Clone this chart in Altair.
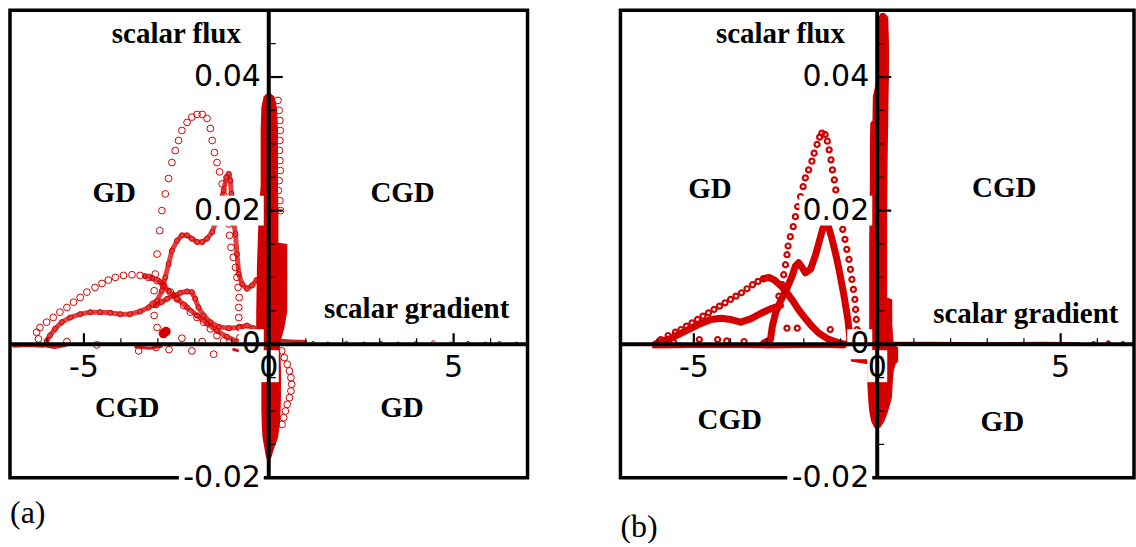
import altair as alt
import pandas as pd

RED = "#d40000"
XD = [-7, 7]
YD = [-0.02, 0.05]

# ---------------- panel (a) data ----------------
a_A_x = [-6.23,-6.28,-6.19,-6.01,-5.83,-5.65,-5.46,-5.28,-5.10,-4.92,-4.70,-4.51,-4.34,-4.15,-3.93,-3.70,-3.48,-3.25,-3.02,-2.85,-2.66,-2.48,-2.30,-2.12,-1.94,-1.76,-1.58,-1.40,-1.22]
a_A_y = [0.0008,0.0018,0.0025,0.0033,0.0040,0.0048,0.0055,0.0063,0.0070,0.0078,0.0085,0.0091,0.0096,0.0100,0.0103,0.0104,0.0103,0.0100,0.0095,0.0088,0.0078,0.0068,0.0058,0.0048,0.0040,0.0033,0.0023,0.0013,0.0005]
a_B_x = [-3.02,-3.10,-3.13,-3.10,-3.07,-3.02,-2.95,-2.89,-2.80,-2.71,-2.62,-2.53,-2.44,-2.35,-2.21,-2.08,-1.94,-1.80,-1.67,-1.58,-1.53,-1.47,-1.40,-1.33,-1.26,-1.22,-1.15,-1.08,-1.06,-1.02,-0.96,-0.90,-0.86,-0.83,-0.80,-0.81,-0.81,-0.79,-0.78]
a_B_y = [0.0025,0.0043,0.0060,0.0080,0.0105,0.0135,0.0170,0.0200,0.0225,0.0248,0.0272,0.0290,0.0305,0.0320,0.0332,0.0340,0.0344,0.0344,0.0338,0.0323,0.0305,0.0287,0.0272,0.0258,0.0240,0.0223,0.0200,0.0180,0.0163,0.0145,0.0130,0.0115,0.0100,0.0085,0.0070,0.0055,0.0040,0.0025,0.0010]
a_C_x = [-6.01,-5.92,-5.78,-5.60,-5.37,-5.10,-4.83,-4.56,-4.29,-4.02,-3.75,-3.48,-3.25,-3.02,-2.89,-2.80,-2.71,-2.62,-2.48,-2.35,-2.21,-2.08,-1.94,-1.80,-1.67,-1.53,-1.42,-1.31,-1.22,-1.15,-1.08,-1.04,-1.01,-0.98,-0.90,-0.86,-0.81,-0.72,-0.59,-0.45,-0.33]
a_C_y = [0.0005,0.0013,0.0023,0.0033,0.0040,0.0045,0.0048,0.0048,0.0047,0.0045,0.0045,0.0049,0.0055,0.0065,0.0080,0.0100,0.0120,0.0140,0.0155,0.0163,0.0163,0.0158,0.0153,0.0153,0.0158,0.0168,0.0185,0.0205,0.0230,0.0250,0.0255,0.0245,0.0225,0.0195,0.0165,0.0135,0.0105,0.0090,0.0083,0.0088,0.0096]
a_D_x = [-3.05,-2.90,-2.75,-2.57,-2.39,-2.21,-2.08,-1.99,-1.90,-1.76,-1.58,-1.35,-1.08,-0.81,-0.59,-0.41,-0.27]
a_D_y = [0.0058,0.0063,0.0068,0.0073,0.0077,0.0079,0.0078,0.0068,0.0055,0.0043,0.0033,0.0026,0.0024,0.0025,0.0028,0.0024,0.0015]
a_E_x = [-3.35,-3.15,-2.93,-2.71,-2.48,-2.21,-1.94,-1.67,-1.40,-1.13,-0.86]
a_E_y = [0.0102,0.0099,0.0093,0.0080,0.0068,0.0055,0.0043,0.0031,0.0020,0.0011,0.0004]
a_F_x = [-2.85,-2.78]
a_F_y = [0.0016,0.0019]
a_I_x = [0.25,0.28,0.30,0.31,0.30,0.29,0.30,0.31,0.28,0.26,0.30,0.32,0.35,0.42,0.50,0.56,0.60,0.62,0.60,0.56,0.50,0.45,0.40,0.36]
a_I_y = [0.0365,0.0350,0.0335,0.0320,0.0305,0.0290,0.0275,0.0260,0.0245,0.0230,0.0215,0.0200,-0.0010,-0.0020,-0.0030,-0.0040,-0.0050,-0.0060,-0.0070,-0.0080,-0.0090,-0.0100,-0.0110,-0.0120]
a_L_x = [-5.46,-4.65,-3.52,-2.35,-2.08,-1.80,-1.49,-3.05,-2.70]
a_L_y = [0.0004,-0.0001,-0.0010,0.0009,-0.0010,0.0004,-0.0015,-0.0005,-0.0008]
a_R_x = [1.2,1.6,2.1,2.57,3.04,3.5,3.98,4.45,4.92,5.39,5.86,6.24,6.7]
a_R_y = [0.0002,0.0001,0.0002,0.0001,0.0002,0.0001,0.0002,0.0003,0.0001,0.0002,0.0001,0.0002,0.0001]
a_H_seg = ["s1","s1","s1","s2","s2","s2","s3","s3","s3","s4","s4","s4","s5","s5","s5"]
a_H_x = [-6.9,-6.5,-6.1,-6.1,-5.8,-5.5,-3.6,-3.2,-2.9,-0.95,-0.6,-0.3,0.3,0.6,1.0]
a_H_y = [-0.0003,-0.0002,-0.0003,-0.0002,-0.0005,-0.0002,-0.0004,-0.0006,-0.0003,-0.0008,-0.0013,-0.0006,0.0006,0.0005,0.0004]
a_blob_y = [-0.0175,-0.0168,-0.0155,-0.014,-0.012,-0.010,-0.008,-0.006,-0.004,-0.002,0.0,0.0024,0.0049,0.008,0.0118,0.0150,0.0152,0.0198,0.0237,0.028,0.032,0.0355,0.0371,0.0376]
a_blob_xl = [-0.04,-0.08,-0.12,-0.17,-0.19,-0.2,-0.2,-0.2,-0.2,-0.2,-0.28,-0.34,-0.34,-0.33,-0.32,-0.3,-0.3,-0.27,-0.22,-0.22,-0.22,-0.2,-0.14,-0.04]
a_blob_xr = [0.02,0.08,0.15,0.25,0.3,0.32,0.33,0.33,0.33,0.32,0.3,0.42,0.5,0.5,0.5,0.5,0.26,0.26,0.25,0.25,0.25,0.22,0.15,0.04]
a_ann_text = ["scalar flux", "GD", "CGD", "scalar gradient", "CGD", "GD"]
a_ann_x = [-2.5, -4.18, 3.62, 4.0, -3.83, 3.6]
a_ann_y = [0.0465, 0.0227, 0.0227, 0.0052, -0.0095, -0.0095]

# ---------------- panel (b) data ----------------
b_P_x = [-2.68,-2.59,-2.55,-2.50,-2.46,-2.43,-2.37,-2.29,-2.23,-2.17,-2.09,-2.02,-1.96,-1.87,-1.78,-1.72,-1.64,-1.57,-1.51,-1.42,-1.36,-1.31,-1.26,-1.22,-1.17,-1.13,-1.08,-1.04,-0.99,-0.94,-0.88,-0.83,-0.77,-0.73,-0.69,-0.65,-0.61,-0.59,-0.57,-0.55,-0.54]
b_P_y = [0.0072,0.0089,0.0104,0.0119,0.0134,0.0147,0.0161,0.0176,0.0191,0.0206,0.0221,0.0236,0.0249,0.0261,0.0274,0.0286,0.0299,0.0310,0.0316,0.0314,0.0304,0.0291,0.0276,0.0261,0.0246,0.0231,0.0216,0.0201,0.0187,0.0172,0.0157,0.0142,0.0127,0.0112,0.0097,0.0082,0.0067,0.0052,0.0037,0.0022,0.0009]
b_S_x = [-5.90,-5.70,-5.50,-5.35,-5.20,-5.05,-4.90,-4.75,-4.60,-4.45,-4.30,-4.15,-4.00,-3.85,-3.70,-3.55,-3.40,-3.25,-3.10]
b_S_y = [0.0007,0.0013,0.0018,0.0022,0.0027,0.0032,0.0037,0.0042,0.0047,0.0052,0.0057,0.0062,0.0067,0.0072,0.0077,0.0083,0.0089,0.0094,0.0098]
b_Q_x = [-3.09,-2.91,-2.86,-2.77,-2.64,-2.46,-2.32,-2.23,-2.14,-2.05,-1.96,-1.82,-1.69,-1.58,-1.49,-1.42,-1.33,-1.24,-1.15,-1.06,-0.99,-0.92,-0.86,-0.80,-0.76,-0.74]
b_Q_y = [0.0002,0.0007,0.0027,0.0047,0.0064,0.0084,0.0102,0.0117,0.0122,0.0115,0.0107,0.0112,0.0132,0.0154,0.0172,0.0182,0.0176,0.0159,0.0139,0.0117,0.0097,0.0077,0.0057,0.0037,0.0017,0.0004]
b_R_x = [-6.05,-5.98,-5.62,-5.26,-4.89,-4.53,-4.26,-3.99,-3.72,-3.45,-3.18,-2.91,-2.64]
b_R_y = [0.0000,0.0002,0.0009,0.0019,0.0029,0.0037,0.0039,0.0037,0.0033,0.0038,0.0046,0.0053,0.0058]
b_T_x = [-3.10,-2.95,-2.80,-2.60,-2.45,-2.30,-2.15,-1.95,-1.80,-1.60,-1.35,-1.10,-0.90]
b_T_y = [0.0098,0.0100,0.0096,0.0086,0.0076,0.0065,0.0052,0.0038,0.0028,0.0017,0.0008,0.0003,0.0000]
b_V_x = [-0.78,-0.62,-0.50,-0.42,-0.36]
b_V_y = [0.0003,0.0013,0.0019,0.0015,0.0005]
b_W_x = [-6.1,-4.5,-3.0,-1.5,-0.9]
b_W_y = [-0.0004,-0.0003,-0.0004,-0.0003,-0.0004]
b_Z_x = [0.35,1.5,3.0,4.5,5.5]
b_Z_y = [0.0002,0.0002,0.0001,0.0002,0.0001]
b_U_x = [-4.85,-4.35,-3.63,-2.46,-2.18,-1.28,-5.55,-4.10]
b_U_y = [0.0007,0.0007,0.0004,0.0024,0.0024,0.0022,0.0003,0.0005]
b_Rd_x = [5.9,6.3,6.7]
b_Rd_y = [0.0001,0.0002,0.0001]
b_blob_y = [-0.0125,-0.0115,-0.010,-0.008,-0.006,-0.004,-0.003,-0.0026,-0.0005,0.0,0.003,0.0067,0.0070,0.010,0.015,0.020,0.025,0.030,0.0331,0.0335,0.0371,0.040,0.045,0.0490,0.0496]
b_blob_xl = [-0.08,-0.17,-0.22,-0.25,-0.27,-0.27,-0.26,-0.72,-0.72,-0.22,-0.22,-0.22,-0.22,-0.22,-0.22,-0.21,-0.2,-0.2,-0.19,-0.13,-0.12,0.0,0.02,0.04,0.1]
b_blob_xr = [0.08,0.2,0.3,0.4,0.42,0.45,0.5,0.57,0.57,0.45,0.41,0.41,0.27,0.27,0.27,0.27,0.28,0.29,0.3,0.3,0.31,0.32,0.32,0.3,0.2]
b_ann_text = ["scalar flux", "GD", "CGD", "scalar gradient", "CGD", "GD"]
b_ann_x = [-2.64, -4.56, 3.46, 4.05, -4.02, 3.41]
b_ann_y = [0.0465, 0.0233, 0.0234, 0.0045, -0.0113, -0.0116]

# ---------------- ticks ----------------
x_minor = [-6, -4, -3, -2, -1, 1, 2, 3, 4, 6]
x_major = [-5, 5]
y_minor = [-0.015, -0.01, -0.005, 0.005, 0.01, 0.015, 0.025, 0.03, 0.035, 0.045]
y_major = [0.02, 0.04]
x_lab_v = [-5, 0, 5]
x_lab_t = ["-5", "0", "5"]
y_lab_v = [-0.02, 0, 0.02, 0.04]
y_lab_t = ["-0.02", "0", "0.02", "0.04"]

XS = alt.Scale(domain=XD, nice=False, zero=False)
YS = alt.Scale(domain=YD, nice=False, zero=False)


def ex(f):
    return alt.X(f"{f}:Q", scale=XS, axis=None)


def ey(f):
    return alt.Y(f"{f}:Q", scale=YS, axis=None)


def dx(v):
    return alt.X(datum=v, scale=XS, axis=None)


def dy(v):
    return alt.Y(datum=v, scale=YS, axis=None)


def curves(series):
    rows = []
    for name, (xs, ys) in series.items():
        for i, (xv, yv) in enumerate(zip(xs, ys)):
            rows.append({"curve": name, "i": i, "x": xv, "y": yv})
    return pd.DataFrame(rows)


def lines(df, width, opacity):
    return alt.Chart(df).mark_line(color=RED, strokeWidth=width, opacity=opacity,
                                   strokeCap="round", strokeJoin="round", clip=True).encode(
        x=ex("x"), y=ey("y"), detail="curve:N", order="i:Q")


def rings(df, size, sw):
    return alt.Chart(df).mark_point(shape="circle", filled=False, color=RED, size=size,
                                    strokeWidth=sw, opacity=1, clip=True).encode(x=ex("x"), y=ey("y"))


def blob(ys, xl, xr):
    df = pd.DataFrame({"y": ys, "xl": xl, "xr": xr})
    return alt.Chart(df).mark_area(orient="horizontal", color=RED, opacity=1, clip=True).encode(
        y=ey("y"), x=ex("xl"), x2="xr:Q")


def ybox(vals, w):
    return alt.Chart(pd.DataFrame({"v": vals})).mark_rect(
        color="white", opacity=1, xOffset=-(10 + w), x2Offset=-5, yOffset=-15, y2Offset=15).encode(
        x=dx(0), x2=alt.X2(datum=0), y=ey("v"), y2=alt.Y2("v:Q"))


def xbox(vals, w):
    return alt.Chart(pd.DataFrame({"v": vals})).mark_rect(
        color="white", opacity=1, xOffset=-w / 2, x2Offset=w / 2, yOffset=6, y2Offset=38).encode(
        x=ex("v"), x2=alt.X2("v:Q"), y=dy(0), y2=alt.Y2(datum=0))


def frame_layers(ann_t, ann_x, ann_y, tag, tag_y):
    one = pd.DataFrame({"v": [0]})
    ydf = pd.DataFrame({"v": y_lab_v, "t": y_lab_t})
    xdf = pd.DataFrame({"v": x_lab_v, "t": x_lab_t})
    out = []
    out.append(alt.Chart(one).mark_rect(filled=False, stroke="black", strokeWidth=3.5).encode(
        x=dx(XD[0]), x2=alt.X2(datum=XD[1]), y=dy(YD[0]), y2=alt.Y2(datum=YD[1])))
    out += [
        ybox([0.02, 0.04], 68), ybox([-0.02], 80), ybox([0], 20),
        xbox([-5], 32), xbox([5], 20), xbox([0], 20),
    ]
    out.append(alt.Chart(one).mark_rule(color="black", strokeWidth=4).encode(
        x=dx(XD[0]), x2=alt.X2(datum=XD[1]), y=dy(0)))
    out.append(alt.Chart(one).mark_rule(color="black", strokeWidth=4).encode(
        x=dx(0), y=dy(YD[0]), y2=alt.Y2(datum=YD[1])))
    out.append(alt.Chart(pd.DataFrame({"v": y_minor})).mark_rule(color="black", strokeWidth=1.2, x2Offset=7).encode(
        x=dx(0), x2=alt.X2(datum=0), y=ey("v")))
    out.append(alt.Chart(pd.DataFrame({"v": y_major})).mark_rule(color="black", strokeWidth=2.2, x2Offset=14).encode(
        x=dx(0), x2=alt.X2(datum=0), y=ey("v")))
    out.append(alt.Chart(pd.DataFrame({"v": x_minor})).mark_rule(color="black", strokeWidth=1.2, y2Offset=-6).encode(
        y=dy(0), y2=alt.Y2(datum=0), x=ex("v")))
    out.append(alt.Chart(pd.DataFrame({"v": x_major})).mark_rule(color="black", strokeWidth=2.2, y2Offset=-11).encode(
        y=dy(0), y2=alt.Y2(datum=0), x=ex("v")))
    out.append(alt.Chart(ydf).mark_text(font="DejaVu Sans", fontSize=30, align="right",
                                        baseline="middle", dx=-8, color="black").encode(
        x=dx(0), y=ey("v"), text="t:N"))
    out.append(alt.Chart(xdf).mark_text(font="DejaVu Sans", fontSize=30, align="center",
                                        baseline="top", dy=9, color="black").encode(
        y=dy(0), x=ex("v"), text="t:N"))
    adf = pd.DataFrame({"t": ann_t, "x": ann_x, "y": ann_y})
    out.append(alt.Chart(adf).mark_text(font="Liberation Serif", fontWeight="bold", fontSize=29,
                                        align="center", baseline="middle", color="black").encode(
        x=ex("x"), y=ey("y"), text="t:N"))
    out.append(alt.Chart(pd.DataFrame({"t": [tag]})).mark_text(
        font="Liberation Serif", fontSize=32, align="left", baseline="alphabetic", color="black").encode(
        x=alt.value(0), y=alt.value(tag_y), text="t:N"))
    return out


# ---------------- panel (a) ----------------
a_dense = curves({"C": (a_C_x, a_C_y), "D": (a_D_x, a_D_y), "E": (a_E_x, a_E_y)})
a_sparse = curves({"A": (a_A_x, a_A_y), "B": (a_B_x, a_B_y), "L": (a_L_x, a_L_y), "I": (a_I_x, a_I_y)})
a_segs = curves({"H" + s: ([x for x, g in zip(a_H_x, a_H_seg) if g == s],
                           [y for y, g in zip(a_H_y, a_H_seg) if g == s]) for s in sorted(set(a_H_seg))})
a_layers = [
    blob(a_blob_y, a_blob_xl, a_blob_xr),
    lines(a_segs, 3, 0.9),
    lines(a_dense, 5, 0.75),
    rings(a_dense, 26, 1.0),
    rings(a_sparse, 46, 1.0),
    rings(curves({"R": (a_R_x, a_R_y)}), 10, 1.0),
    alt.Chart(curves({"F": (a_F_x, a_F_y)})).mark_circle(color=RED, size=90, opacity=1).encode(x=ex("x"), y=ey("y")),
] + frame_layers(a_ann_text, a_ann_x, a_ann_y, "(a)", 513)
panel_a = alt.layer(*a_layers).properties(width=518, height=468)

# ---------------- panel (b) ----------------
b_dense = curves({"Q": (b_Q_x, b_Q_y), "R": (b_R_x, b_R_y), "T": (b_T_x, b_T_y), "V": (b_V_x, b_V_y)})
b_sparse = curves({"P": (b_P_x, b_P_y), "S": (b_S_x, b_S_y), "U": (b_U_x, b_U_y)})
b_layers = [
    blob(b_blob_y, b_blob_xl, b_blob_xr),
    lines(curves({"W": (b_W_x, b_W_y)}), 3, 1),
    lines(curves({"Z": (b_Z_x, b_Z_y)}), 2.5, 1),
    lines(b_dense, 7, 1),
    rings(b_sparse, 26, 2.2),
    rings(curves({"Rd": (b_Rd_x, b_Rd_y)}), 10, 2),
] + frame_layers(b_ann_text, b_ann_x, b_ann_y, "(b)", 527)
panel_b = alt.layer(*b_layers).properties(width=514, height=468)

chart = alt.hconcat(panel_a, panel_b, spacing=93, bounds="flush").properties(
    padding={"left": 8, "top": 8, "right": 0, "bottom": 0}
).configure(background="white").configure_view(strokeWidth=0)

chart.save("out.html", embed_options={"renderer": "svg", "actions": False})
